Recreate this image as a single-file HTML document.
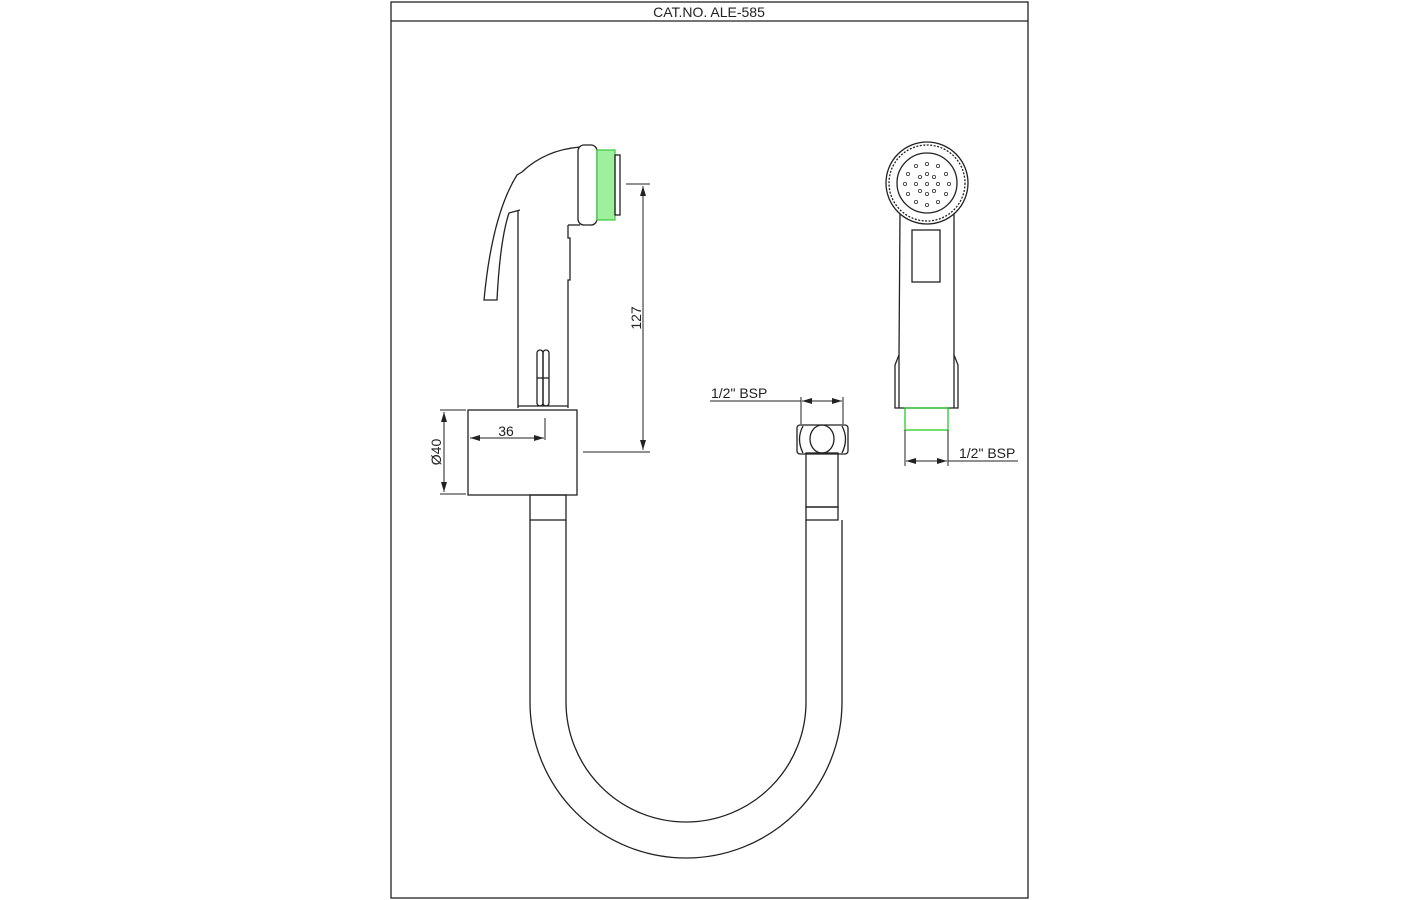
<!DOCTYPE html>
<html><head><meta charset="utf-8"><style>html,body{margin:0;padding:0;background:#fff}svg{display:block}</style></head>
<body>
<svg width="1420" height="900" viewBox="0 0 1420 900" xmlns="http://www.w3.org/2000/svg" font-family="Liberation Sans, sans-serif">
<defs><marker id="a" viewBox="0 0 10 6" refX="10" refY="3" markerWidth="10" markerHeight="6" orient="auto-start-reverse"><path d="M0,0L10,3L0,6z" fill="#222"/></marker></defs>
<g fill="none" stroke="#222" stroke-width="1.3">
<rect x="391" y="2" width="637" height="896"/>
<line x1="391" y1="21" x2="1028" y2="21"/>
<path d="M522,172 Q545,150 580,147"/>
<path d="M522,172 L517,175 Q492,215 484,300 L497,300 Q500,240 509,213 L520,210"/>
<line x1="518" y1="210" x2="518" y2="408"/>
<path d="M568,225 L568,238 L570,238 L570,280 L568,280 L568,408"/>
<rect x="578" y="145" width="19" height="80" rx="6"/>
<line x1="568" y1="225" x2="580" y2="225"/>
<rect x="597" y="150" width="18" height="70" fill="#9ef09e" stroke="#4c4"/>
<rect x="615" y="155" width="5" height="60"/>
<rect x="537" y="350" width="6" height="56" rx="3"/><rect x="543" y="350" width="6" height="56" rx="3"/>
<line x1="537" y1="378" x2="549" y2="378"/>
<line x1="518" y1="406" x2="568" y2="406"/>
<rect x="468" y="410" width="109" height="85"/>
<rect x="530" y="495" width="36" height="25"/>
<path d="M530,520 L530,702 A156,156 0 0 0 842,702 L842,520"/>
<path d="M566,520 L566,702 A120,120 0 0 0 806,702 L806,520"/>
<rect x="806" y="507" width="32" height="13"/>
<rect x="806" y="453" width="32" height="54"/>
<rect x="797" y="425" width="51" height="29" rx="3"/>
<ellipse cx="822" cy="439" rx="12" ry="14"/>
<path d="M803,426 Q796,439 803,453 M842,426 Q849,439 842,453"/>
<line x1="626" y1="184" x2="650" y2="184" stroke-width="1"/>
<line x1="583" y1="452" x2="650" y2="452" stroke-width="1"/>
<line x1="643" y1="186" x2="643" y2="450" stroke-width="1" marker-start="url(#a)" marker-end="url(#a)"/>
<line x1="545" y1="418" x2="545" y2="440" stroke-width="1"/>
<line x1="470" y1="438" x2="544" y2="438" stroke-width="1" marker-start="url(#a)" marker-end="url(#a)"/>
<line x1="440" y1="410" x2="466" y2="410" stroke-width="1"/>
<line x1="440" y1="494" x2="466" y2="494" stroke-width="1"/>
<line x1="444" y1="412" x2="444" y2="492" stroke-width="1" marker-start="url(#a)" marker-end="url(#a)"/>
<line x1="710" y1="401" x2="801" y2="401" stroke-width="1"/>
<line x1="801" y1="397" x2="801" y2="424" stroke-width="1"/><line x1="843" y1="397" x2="843" y2="424" stroke-width="1"/>
<line x1="802" y1="401" x2="842" y2="401" stroke-width="1" marker-start="url(#a)" marker-end="url(#a)"/>
<circle cx="927" cy="183" r="41"/><circle cx="927" cy="183" r="38" stroke-dasharray="2 1.5"/><circle cx="927" cy="183" r="30"/>
<path d="M900,214 L899,355 L895,365 L895,408 L958,408 L958,365 L954,355 L954,214"/>
<line x1="899" y1="355" x2="899" y2="408"/><line x1="954" y1="355" x2="954" y2="408"/>
<rect x="912" y="230" width="28" height="52"/>
<rect x="905" y="408" width="43" height="22" fill="none" stroke="#2c2"/>
<line x1="905" y1="430" x2="905" y2="466" stroke-width="1"/><line x1="948" y1="430" x2="948" y2="466" stroke-width="1"/>
<line x1="948" y1="461" x2="1018" y2="461" stroke-width="1"/>
<line x1="906" y1="461" x2="947" y2="461" stroke-width="1" marker-start="url(#a)" marker-end="url(#a)"/>
</g>
<g fill="none" stroke="#333" stroke-width="0.8">
<circle cx="916" cy="166" r="1.6"/><circle cx="927" cy="164" r="1.6"/><circle cx="938" cy="166" r="1.6"/>
<circle cx="908" cy="174" r="1.6"/><circle cx="920" cy="177" r="1.6"/><circle cx="927" cy="174" r="1.6"/><circle cx="934" cy="177" r="1.6"/><circle cx="946" cy="174" r="1.6"/>
<circle cx="905" cy="184" r="1.6"/><circle cx="916" cy="184" r="1.6"/><circle cx="927" cy="184" r="1.6"/><circle cx="938" cy="184" r="1.6"/><circle cx="949" cy="184" r="1.6"/>
<circle cx="908" cy="194" r="1.6"/><circle cx="920" cy="191" r="1.6"/><circle cx="927" cy="194" r="1.6"/><circle cx="934" cy="191" r="1.6"/><circle cx="946" cy="194" r="1.6"/>
<circle cx="916" cy="202" r="1.6"/><circle cx="927" cy="205" r="1.6"/><circle cx="938" cy="202" r="1.6"/>
</g>
<g fill="#222" font-size="14">
<text x="709" y="17" text-anchor="middle">CAT.NO. ALE-585</text>
<text x="506" y="436" text-anchor="middle">36</text>
<text transform="translate(641,318) rotate(-90)" text-anchor="middle">127</text>
<text transform="translate(441,452) rotate(-90)" text-anchor="middle">Ø40</text>
<text x="711" y="398">1/2" BSP</text>
<text x="959" y="458">1/2" BSP</text>
</g>
</svg>
</body></html>
